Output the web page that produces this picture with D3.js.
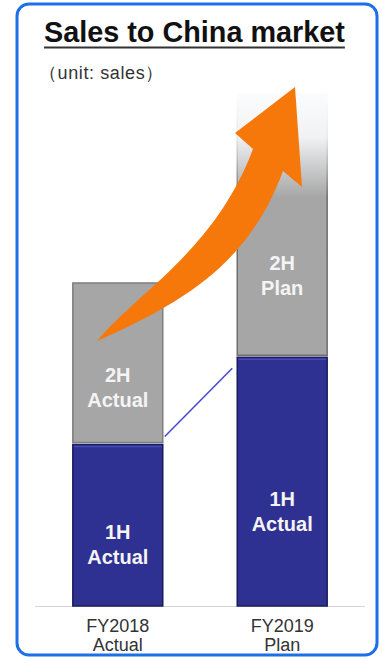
<!DOCTYPE html>
<html>
<head>
<meta charset="utf-8">
<script src="https://cdn.jsdelivr.net/npm/d3@7"></script>
<style>
  html, body { margin: 0; padding: 0; background: #fff; }
  text { font-family: "Liberation Sans", Arial, sans-serif; }
</style>
</head>
<body>
<div id="chart"></div>
<script>
// values (arbitrary units, FY2018 total = 100)
var categories = ['FY2018 Actual', 'FY2019 Plan'];
var tickLabels = [['FY2018', 'Actual'], ['FY2019', 'Plan']];
var firstHalf = [50, 77];
var secondHalf = [50, 82];
var firstLabels = [['1H', 'Actual'], ['1H', 'Actual']];
var secondLabels = [['2H', 'Actual'], ['2H', 'Plan']];

var W = 382, H = 659;
var svg = d3.select('#chart').append('svg')
  .attr('width', W)
  .attr('height', H);

var defs = svg.append('defs');
var fade = defs.append('linearGradient')
  .attr('id', 'planFade')
  .attr('x1', 0).attr('y1', 0).attr('x2', 0).attr('y2', 1);
fade.append('stop').attr('offset', '0%').attr('stop-color', '#fbfcfd');
fade.append('stop').attr('offset', '17%').attr('stop-color', '#f0f2f4');
fade.append('stop').attr('offset', '40%').attr('stop-color', '#a6a6a6');
fade.append('stop').attr('offset', '100%').attr('stop-color', '#a6a6a6');

var fadeEdge = defs.append('linearGradient')
  .attr('id', 'planEdge')
  .attr('x1', 0).attr('y1', 0).attr('x2', 0).attr('y2', 1);
fadeEdge.append('stop').attr('offset', '0%').attr('stop-color', '#ffffff');
fadeEdge.append('stop').attr('offset', '17%').attr('stop-color', '#e8e8e8');
fadeEdge.append('stop').attr('offset', '40%').attr('stop-color', '#6e6e6e');
fadeEdge.append('stop').attr('offset', '100%').attr('stop-color', '#6e6e6e');

// frame
svg.append('rect')
  .attr('x', 17).attr('y', 4)
  .attr('width', 360).attr('height', 651)
  .attr('rx', 12)
  .attr('fill', '#fff')
  .attr('stroke', '#1c6fe6')
  .attr('stroke-width', 3);

// title + underline
var title = svg.append('text')
  .attr('x', 44).attr('y', 42)
  .attr('font-size', 28.8)
  .attr('font-weight', 'bold')
  .attr('fill', '#111')
  .text('Sales to China market');
var tw = title.node().getComputedTextLength();
svg.append('line')
  .attr('x1', 44).attr('x2', 44 + tw)
  .attr('y1', 47.5).attr('y2', 47.5)
  .attr('stroke', '#333')
  .attr('stroke-width', 2);

svg.append('text')
  .attr('x', 39).attr('y', 79)
  .attr('font-size', 18)
  .attr('letter-spacing', 0.6)
  .attr('fill', '#333')
  .text('（unit: sales）');

// scales
var x = d3.scaleBand()
  .domain(categories)
  .range([35, 365])
  .paddingInner(0.453)
  .paddingOuter(0.23);

var y = d3.scaleLinear()
  .domain([0, 100])
  .range([606, 283]);

var rows = categories.map(function (c, i) {
  return { cat: c, h1: firstHalf[i], h2: secondHalf[i], i: i };
});

// baseline
svg.append('line')
  .attr('x1', 35).attr('x2', 365)
  .attr('y1', 606.5).attr('y2', 606.5)
  .attr('stroke', '#d4d4d4')
  .attr('stroke-width', 1);

// 2H segments
svg.selectAll('rect.h2')
  .data(rows)
  .enter()
  .append('rect')
  .attr('class', 'h2')
  .attr('x', function (d) { return x(d.cat); })
  .attr('y', function (d) { return y(d.h1 + d.h2); })
  .attr('width', x.bandwidth())
  .attr('height', function (d) { return y(d.h1) - y(d.h1 + d.h2) - 2; })
  .attr('fill', function (d) { return d.i === 1 ? 'url(#planFade)' : '#a6a6a6'; })
  .attr('stroke', function (d) { return d.i === 1 ? 'url(#planEdge)' : '#7e7e7e'; })
  .attr('stroke-width', 1.5);

// 1H segments
svg.selectAll('rect.h1')
  .data(rows)
  .enter()
  .append('rect')
  .attr('class', 'h1')
  .attr('x', function (d) { return x(d.cat); })
  .attr('y', function (d) { return y(d.h1); })
  .attr('width', x.bandwidth())
  .attr('height', function (d) { return y(0) - y(d.h1); })
  .attr('fill', '#2f3192')
  .attr('stroke', '#1b1c5e')
  .attr('stroke-width', 1.5);

svg.selectAll('line.topedge')
  .data(rows)
  .enter()
  .append('line')
  .attr('class', 'topedge')
  .attr('x1', function (d) { return x(d.cat) + 1; })
  .attr('x2', function (d) { return x(d.cat) + x.bandwidth() - 1; })
  .attr('y1', function (d) { return y(d.h1) + 2; })
  .attr('y2', function (d) { return y(d.h1) + 2; })
  .attr('stroke', '#4649b0')
  .attr('stroke-width', 1.5);

// connector between the 1H tops
svg.append('line')
  .attr('x1', x(categories[0]) + x.bandwidth() + 2)
  .attr('y1', y(firstHalf[0]) - 8)
  .attr('x2', x(categories[1]) - 5)
  .attr('y2', y(firstHalf[1]) + 11)
  .attr('stroke', '#4b4bd0')
  .attr('stroke-width', 1.6);

// labels inside bars
function barLabel(lines, cx, cy) {
  var g = svg.append('text')
    .attr('text-anchor', 'middle')
    .attr('font-size', 20)
    .attr('font-weight', 'bold')
    .attr('fill', '#f4f4f4');
  lines.forEach(function (t, k) {
    g.append('tspan')
      .attr('x', cx)
      .attr('y', cy + (k - (lines.length - 1) / 2) * 25 + 7)
      .text(t);
  });
}

rows.forEach(function (d) {
  var cx = x(d.cat) + x.bandwidth() / 2;
  var t1 = y(d.h1), b1 = y(0);
  barLabel(firstLabels[d.i], cx, t1 + (b1 - t1) * 0.62);
  var t2 = y(d.h1 + d.h2), b2 = y(d.h1);
  barLabel(secondLabels[d.i], cx, t2 + (b2 - t2) * (d.i === 0 ? 0.65 : 0.69));
});

// growth arrow
svg.append('path')
  .attr('d', 'M97,341 C140,290 215,250 253,149 L235,133 L295,87 L302,187 L283,171 C250,260 190,300 97,341 Z')
  .attr('fill', '#f7780a');

// category labels
svg.selectAll('text.tick')
  .data(rows)
  .enter()
  .append('text')
  .attr('class', 'tick')
  .attr('text-anchor', 'middle')
  .attr('font-size', 18)
  .attr('fill', '#333')
  .each(function (d) {
    var t = d3.select(this);
    var cx = x(d.cat) + x.bandwidth() / 2;
    tickLabels[d.i].forEach(function (s, k) {
      t.append('tspan')
        .attr('x', cx)
        .attr('y', 632 + k * 18.5)
        .text(s);
    });
  });
</script>
</body>
</html>
